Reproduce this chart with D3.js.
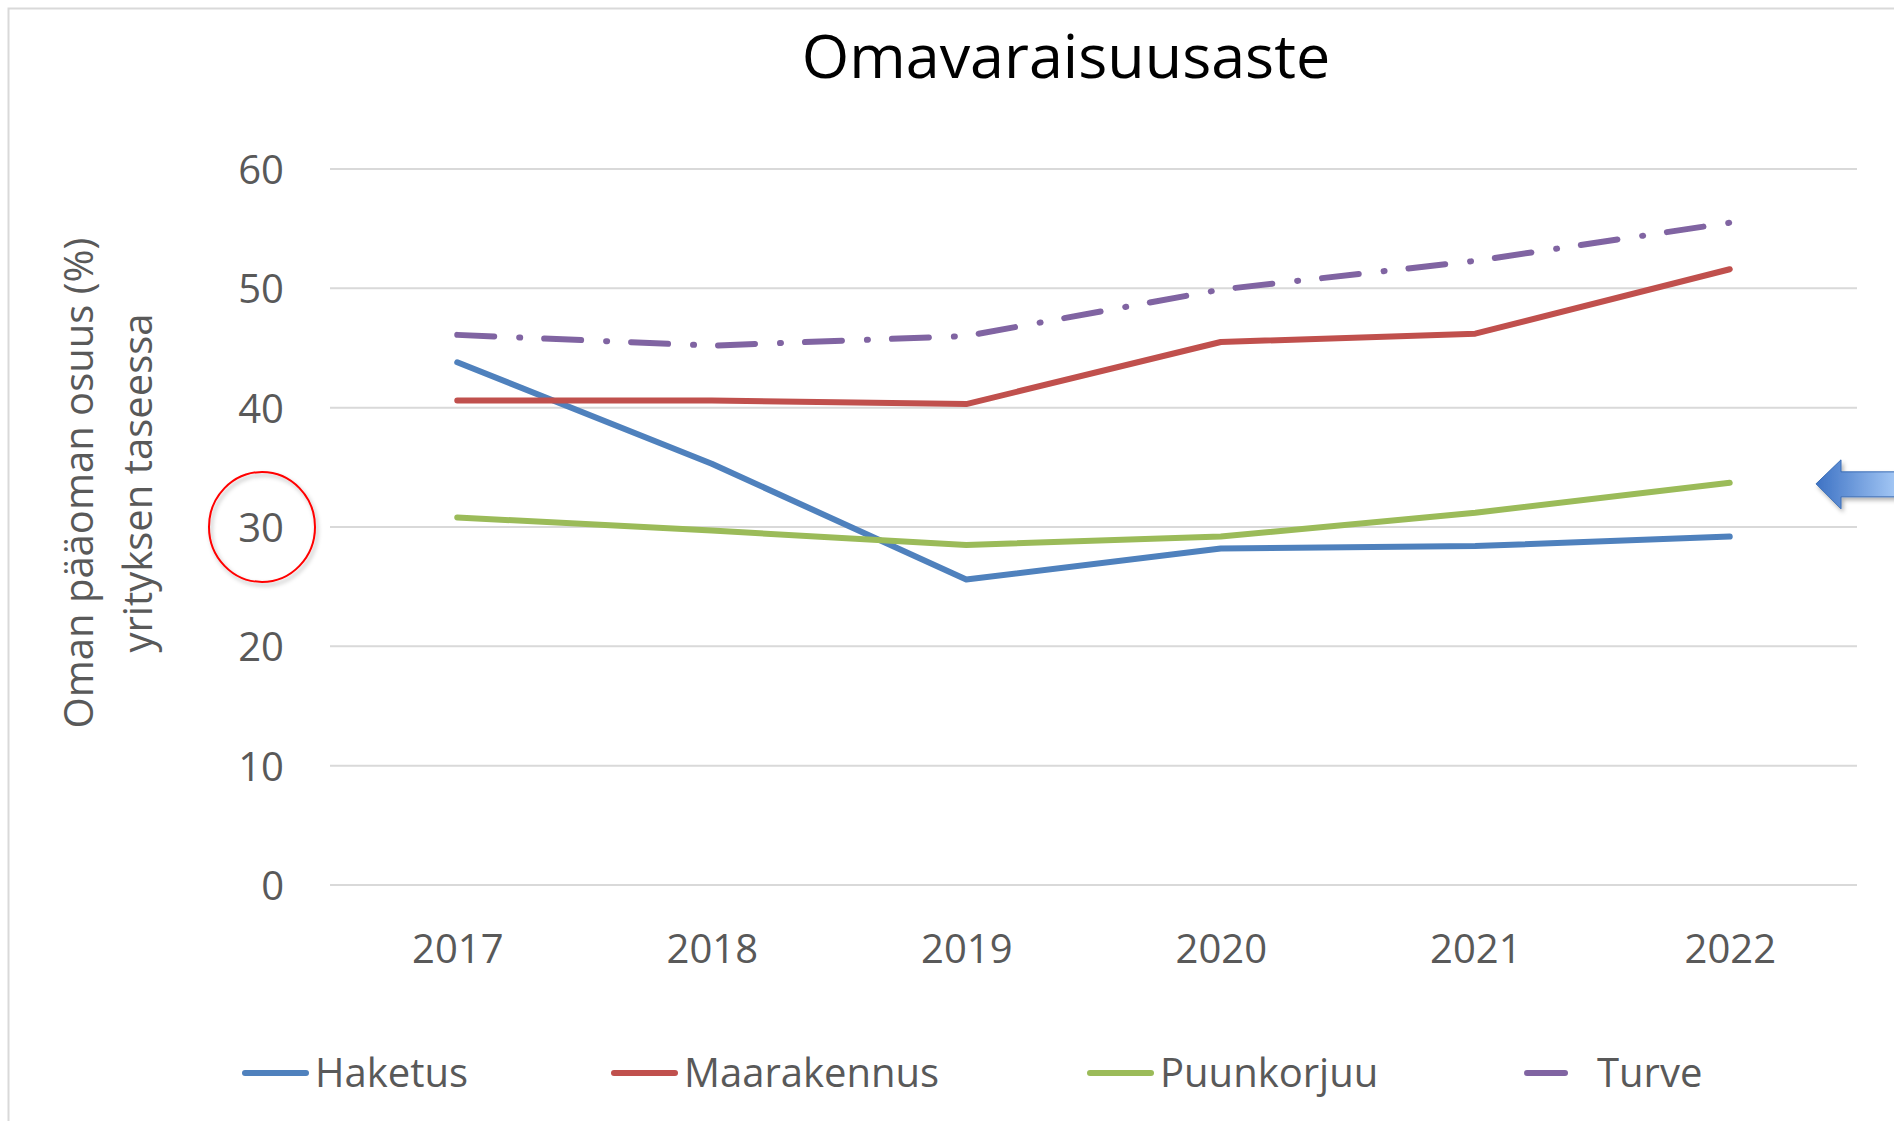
<!DOCTYPE html>
<html>
<head>
<meta charset="utf-8">
<script src="https://cdn.jsdelivr.net/npm/d3@7"></script>
<style>
  body { margin: 0; background: #fff; }
  svg { display: block; font-family: "Open Sans", sans-serif; }
</style>
</head>
<body>
<div id="chart"></div>
<script>
// data
const years = ["2017", "2018", "2019", "2020", "2021", "2022"];
const haketus = [43.8, 35.3, 25.6, 28.2, 28.4, 29.2];
const maarakennus = [40.6, 40.6, 40.3, 45.5, 46.2, 51.6];
const puunkorjuu = [30.8, 29.7, 28.5, 29.2, 31.2, 33.7];
const turve = [46.1, 45.2, 46.0, 49.9, 52.3, 55.5];
const yTicks = [0, 10, 20, 30, 40, 50, 60];

const series = [
    { name: "Haketus", values: haketus, color: "#4f81bd", dash: null },
    { name: "Maarakennus", values: maarakennus, color: "#c0504d", dash: null },
    { name: "Puunkorjuu", values: puunkorjuu, color: "#9bbb59", dash: null },
    { name: "Turve", values: turve, color: "#8064a2", dash: "37,25,1,24" }
];

const W = 1894, H = 1121;
const margin = { top: 169, right: 37, bottom: 236, left: 330 };
const width = W - margin.left - margin.right,
    height = H - margin.top - margin.bottom;
const fs = 40;

const root = d3.select("#chart")
    .append("svg")
    .attr("width", W)
    .attr("height", H);

const defs = root.append("defs");
const grad = defs.append("linearGradient")
    .attr("id", "arrowGrad")
    .attr("x1", "0").attr("x2", "1").attr("y1", "0").attr("y2", "0");
grad.append("stop").attr("offset", "0%").attr("stop-color", "#3d72c4");
grad.append("stop").attr("offset", "100%").attr("stop-color", "#a8cbf7");
const shadow = defs.append("filter").attr("id", "shadow")
    .attr("x", "-20%").attr("y", "-20%").attr("width", "140%").attr("height", "140%");
shadow.append("feDropShadow")
    .attr("dx", 2).attr("dy", 3).attr("stdDeviation", 2)
    .attr("flood-color", "#000").attr("flood-opacity", 0.3);

// outer frame
root.append("rect")
    .attr("x", 8.5).attr("y", 8.5)
    .attr("width", W + 20).attr("height", H + 20)
    .attr("fill", "none")
    .attr("stroke", "#d9d9d9")
    .attr("stroke-width", 2);

// title
root.append("text")
    .attr("x", 1066)
    .attr("y", 78)
    .attr("text-anchor", "middle")
    .attr("font-size", 61)
    .attr("fill", "#000")
    .text("Omavaraisuusaste");

const svg = root.append("g")
    .attr("transform", `translate(${margin.left},${margin.top})`);

const x = d3.scalePoint()
    .domain(years)
    .range([0, width])
    .padding(0.5);

const y = d3.scaleLinear()
    .domain([0, 60])
    .range([height, 0]);

// gridlines
svg.append("g")
    .selectAll("line")
    .data(yTicks)
    .enter().append("line")
    .attr("x1", 0)
    .attr("x2", width)
    .attr("y1", d => y(d))
    .attr("y2", d => y(d))
    .attr("stroke", "#d9d9d9")
    .attr("stroke-width", 2);

// Y axis
const yAxis = svg.append("g")
    .attr("transform", "translate(-43,0)")
    .call(d3.axisLeft(y).tickValues(yTicks).tickSize(0));
yAxis.select(".domain").remove();
yAxis.selectAll("text")
    .attr("font-size", fs)
    .attr("font-family", "Open Sans, sans-serif")
    .attr("fill", "#595959")
    .attr("dy", "0.36em");

// X axis
const xAxis = svg.append("g")
    .attr("transform", `translate(0, ${height})`)
    .call(d3.axisBottom(x).tickSize(0));
xAxis.select(".domain").remove();
xAxis.selectAll("text")
    .attr("font-size", fs)
    .attr("font-family", "Open Sans, sans-serif")
    .attr("fill", "#595959")
    .attr("y", 50)
    .attr("dy", "0.71em");

// Y axis title (two lines)
const yTitle = root.append("text")
    .attr("transform", "translate(0,483) rotate(-90)")
    .attr("text-anchor", "middle")
    .attr("font-size", fs)
    .attr("fill", "#595959");
yTitle.append("tspan").attr("x", 0).attr("y", 93).text("Oman pääoman osuus (%)");
yTitle.append("tspan").attr("x", 0).attr("y", 152).text("yrityksen taseessa");

// lines
const line = d3.line()
    .x((d, i) => x(years[i]))
    .y(d => y(d));

svg.append("g")
    .selectAll("path")
    .data(series)
    .enter().append("path")
    .attr("d", d => line(d.values))
    .attr("fill", "none")
    .attr("stroke", d => d.color)
    .attr("stroke-width", 6)
    .attr("stroke-linecap", "round")
    .attr("stroke-linejoin", "round")
    .attr("stroke-dasharray", d => d.dash);

// legend
const legendX = [242, 611, 1087, 1524];
const legend = root.append("g")
    .selectAll("g")
    .data(series)
    .enter().append("g")
    .attr("transform", (d, i) => `translate(${legendX[i]},1073)`);
legend.append("line")
    .attr("x1", 3)
    .attr("x2", (d, i) => i === 3 ? 41 : 64)
    .attr("y1", 0).attr("y2", 0)
    .attr("stroke", d => d.color)
    .attr("stroke-width", 6)
    .attr("stroke-linecap", "round");
legend.append("text")
    .attr("x", 73)
    .attr("y", 0)
    .attr("dy", "0.36em")
    .attr("font-size", fs)
    .attr("fill", "#595959")
    .text(d => d.name);

// red circle around the 30 label
root.append("ellipse")
    .attr("cx", 262)
    .attr("cy", y(30) + margin.top)
    .attr("rx", 53)
    .attr("ry", 55)
    .attr("fill", "none")
    .attr("stroke", "#ff0000")
    .attr("stroke-width", 2)
    .attr("filter", "url(#shadow)");

// blue arrow pointing at Puunkorjuu
const ay = y(puunkorjuu[5]) + margin.top + 1;
root.append("path")
    .attr("d", `M1816,${ay} L1841,${ay - 24} L1841,${ay - 12} L1900,${ay - 12} L1900,${ay + 13} L1841,${ay + 13} L1841,${ay + 25} Z`)
    .attr("fill", "url(#arrowGrad)")
    .attr("stroke", "#3a6db5")
    .attr("stroke-width", 1)
    .attr("filter", "url(#shadow)");
</script>
</body>
</html>
